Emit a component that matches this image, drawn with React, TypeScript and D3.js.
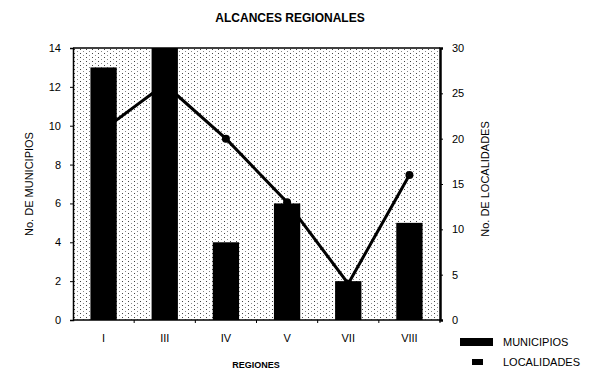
import { useEffect, useRef } from 'react'
import * as d3 from 'd3'

const regiones = ['I', 'III', 'IV', 'V', 'VII', 'VIII']
const municipios = [13, 14, 4, 6, 2, 5]
const localidades = [21, 26, 20, 13, 4, 16]
const leftTicks = [0, 2, 4, 6, 8, 10, 12, 14]
const rightTicks = [0, 5, 10, 15, 20, 25, 30]

export default function App() {
  const svgRef = useRef<SVGSVGElement>(null)

  useEffect(() => {
    if (!svgRef.current) return
    d3.select(svgRef.current).selectAll('*').remove()

    const width = 590
    const height = 371
    const margin = { top: 48, right: 150, bottom: 51, left: 73 }
    const innerWidth = width - margin.left - margin.right
    const innerHeight = height - margin.top - margin.bottom
    const font = 'Liberation Sans, Arial, sans-serif'

    const svg = d3.select(svgRef.current)
      .attr('width', width)
      .attr('height', height)
      .style('display', 'block')
      .style('background', '#fff')

    // stipple background
    const defs = svg.append('defs')
    const pat = defs.append('pattern')
      .attr('id', 'dots')
      .attr('width', 6)
      .attr('height', 4)
      .attr('patternUnits', 'userSpaceOnUse')
    pat.append('rect').attr('width', 6).attr('height', 4).attr('fill', '#fff')
    pat.append('rect').attr('x', 1).attr('y', 1).attr('width', 1).attr('height', 1).attr('fill', '#444')
    pat.append('rect').attr('x', 4).attr('y', 3).attr('width', 1).attr('height', 1).attr('fill', '#888')

    // Title
    svg.append('text')
      .attr('x', 290)
      .attr('y', 22)
      .attr('text-anchor', 'middle')
      .style('font-family', font)
      .style('font-weight', 'bold')
      .style('font-size', '12px')
      .text('ALCANCES REGIONALES')

    const g = svg.append('g')
      .attr('transform', `translate(${margin.left},${margin.top})`)

    const xScale = d3.scaleBand<string>()
      .domain(regiones)
      .range([0, innerWidth])
      .paddingInner(0.57)
      .paddingOuter(0.285)

    const yLeft = d3.scaleLinear().domain([0, 14]).range([innerHeight, 0])
    const yRight = d3.scaleLinear().domain([0, 30]).range([innerHeight, 0])

    g.append('rect')
      .attr('width', innerWidth)
      .attr('height', innerHeight)
      .attr('fill', 'url(#dots)')

    // Line (behind bars)
    const cx = (d: string) => (xScale(d) ?? 0) + xScale.bandwidth() / 2
    const line = d3.line<number>()
      .x((_, i) => cx(regiones[i]))
      .y(d => yRight(d))

    g.append('path')
      .datum(localidades)
      .attr('fill', 'none')
      .attr('stroke', '#000')
      .attr('stroke-width', 3)
      .attr('d', line)

    g.selectAll('.marker')
      .data(localidades)
      .enter().append('circle')
      .attr('class', 'marker')
      .attr('cx', (_, i) => cx(regiones[i]))
      .attr('cy', d => yRight(d))
      .attr('r', 4)
      .attr('fill', '#000')

    // Bars
    g.selectAll('.bar')
      .data(municipios)
      .enter().append('rect')
      .attr('class', 'bar')
      .attr('x', (_, i) => xScale(regiones[i]) ?? 0)
      .attr('y', d => yLeft(d))
      .attr('width', xScale.bandwidth())
      .attr('height', d => innerHeight - yLeft(d))
      .attr('fill', '#000')

    // Frame
    g.append('line')
      .attr('x1', 0).attr('x2', innerWidth)
      .attr('y1', 0).attr('y2', 0)
      .attr('stroke', '#000').attr('stroke-width', 1.5)

    // Left axis
    const leftAxis = g.append('g')
      .call(d3.axisLeft(yLeft).tickValues(leftTicks).tickSize(3).tickPadding(9).tickFormat(d3.format('d')))
    leftAxis.select('.domain').attr('stroke-width', 1.5)
    leftAxis.selectAll('text').style('font-family', font).style('font-size', '11px')

    // Right axis
    const rightAxis = g.append('g')
      .attr('transform', `translate(${innerWidth},0)`)
      .call(d3.axisRight(yRight).tickValues(rightTicks).tickSize(3).tickPadding(9).tickFormat(d3.format('d')))
    rightAxis.select('.domain').attr('stroke-width', 2.5)
    rightAxis.selectAll('text').style('font-family', font).style('font-size', '11px')

    // Bottom axis
    const bottom = g.append('g')
      .attr('transform', `translate(0,${innerHeight})`)
    bottom.append('line')
      .attr('x1', 0).attr('x2', innerWidth)
      .attr('stroke', '#000').attr('stroke-width', 1.5)
    const step = xScale.step()
    bottom.selectAll('.tick')
      .data(regiones)
      .enter().append('line')
      .attr('x1', (_, i) => (i + 1) * step)
      .attr('x2', (_, i) => (i + 1) * step)
      .attr('y1', 0).attr('y2', 3)
      .attr('stroke', '#000')
    bottom.selectAll('.lbl')
      .data(regiones)
      .enter().append('text')
      .attr('x', d => cx(d))
      .attr('y', 22)
      .attr('text-anchor', 'middle')
      .style('font-family', font)
      .style('font-size', '11px')
      .text(d => d)

    // Axis titles
    svg.append('text')
      .attr('x', 256)
      .attr('y', 368)
      .attr('text-anchor', 'middle')
      .style('font-family', font)
      .style('font-weight', 'bold')
      .style('font-size', '9px')
      .text('REGIONES')

    svg.append('text')
      .attr('transform', `translate(33,${margin.top + innerHeight / 2}) rotate(-90)`)
      .attr('text-anchor', 'middle')
      .style('font-family', font)
      .style('font-size', '11px')
      .text('No. DE MUNICIPIOS')

    svg.append('text')
      .attr('transform', `translate(489,${margin.top + innerHeight / 2 - 5}) rotate(-90)`)
      .attr('text-anchor', 'middle')
      .style('font-family', font)
      .style('font-size', '11px')
      .text('No. DE LOCALIDADES')

    // Legend
    const legend = svg.append('g').attr('transform', 'translate(460,336)')
    legend.append('rect')
      .attr('x', 0).attr('y', 2)
      .attr('width', 33).attr('height', 8)
      .attr('fill', '#000')
    legend.append('text')
      .attr('x', 43).attr('y', 10)
      .style('font-family', font)
      .style('font-size', '11px')
      .text('MUNICIPIOS')
    legend.append('rect')
      .attr('x', 12).attr('y', 23)
      .attr('width', 11).attr('height', 6)
      .attr('fill', '#000')
    legend.append('text')
      .attr('x', 43).attr('y', 30)
      .style('font-family', font)
      .style('font-size', '11px')
      .text('LOCALIDADES')
  }, [])

  return (
    <div style={{ position: 'fixed', left: 0, top: 0 }}>
      <svg ref={svgRef} />
    </div>
  )
}
